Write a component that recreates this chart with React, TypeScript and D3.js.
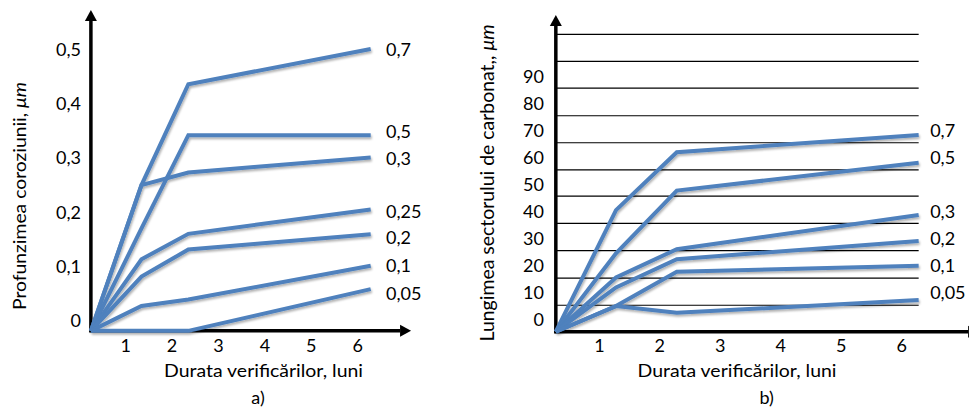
import React from 'react';
import * as d3 from 'd3';

// ---------- shared ----------
const monthTicks = [1, 2, 3, 4, 5, 6];
const xTitle = 'Durata verificărilor, luni';

// ---------- panel a ----------
const seriesA = ['0,7', '0,5', '0,3', '0,25', '0,2', '0,1', '0,05'];
const monthsA = [0.25, 1.34, 2.35, 6.28];
const valuesA = [
  [-0.02, 0.249, 0.435, 0.5],
  [-0.02, 0.169, 0.341, 0.341],
  [-0.02, 0.249, 0.272, 0.3],
  [-0.02, 0.112, 0.159, 0.204],
  [-0.02, 0.08, 0.13, 0.158],
  [-0.02, 0.026, 0.038, 0.1],
  [-0.02, -0.02, -0.02, 0.057],
];
const labelYA = [0.5, 0.349, 0.299, 0.201, 0.153, 0.101, 0.05];
const yTicksA = [0, 0.1, 0.2, 0.3, 0.4, 0.5];
const yTickLabelsA = ['0', '0,1', '0,2', '0,3', '0,4', '0,5'];

// ---------- panel b ----------
const seriesB = ['0,7', '0,5', '0,3', '0,2', '0,1', '0,05'];
const monthsB = [0.28, 1.275, 2.28, 6.28];
const valuesB = [
  [-4.6, 40.4, 61.8, 68.2],
  [-4.6, 24.4, 47.6, 57.9],
  [-4.6, 15.5, 25.9, 38.6],
  [-4.6, 11.8, 22.2, 29.0],
  [-4.6, 4.9, 17.6, 19.8],
  [-4.6, 4.9, 2.4, 7.1],
];
const labelYB = [70, 60, 40, 30, 20, 10];
const yTicksB = [0, 10, 20, 30, 40, 50, 60, 70, 80, 90];
const gridB = [5.2, 15.2, 25.4, 35.5, 45.6, 55.3, 65.3, 75.3, 85.5, 95.4, 105.4];

const BLUE = '#4F81BD';
const FONT = 'Lato, "Open Sans", sans-serif';

type PanelProps = {
  id: string;
  x: d3.ScaleLinear<number, number>;
  y: d3.ScaleLinear<number, number>;
  months: number[];
  values: number[][];
  names: string[];
  labelY: number[];
  labelX: number;
  yTicks: number[];
  yTickLabels: string[];
  yLabelX: number;
  origin: [number, number];
  xTip: number;
  yTip: number;
  grid?: number[];
  gridEnd?: number;
  yTitle: string;
  yTitlePos: [number, number];
  yTitleLen: number;
  yTitleSize: number;
  xTitlePos: [number, number];
  caption: string;
  captionPos: [number, number];
};

function Panel(p: PanelProps) {
  const ox = p.x(p.origin[0]);
  const oy = p.y(p.origin[1]);
  const xt = p.x(p.xTip);
  const yt = p.y(p.yTip);
  const ah = 11;
  const aw = 6;
  const line = d3
    .line<[number, number]>()
    .x((d) => p.x(d[0]))
    .y((d) => p.y(d[1]));
  return (
    <g>
      {p.grid &&
        p.grid.map((g, i) => (
          <line
            key={'g' + i}
            x1={ox}
            x2={p.x(p.gridEnd as number)}
            y1={p.y(g)}
            y2={p.y(g)}
            stroke="#000"
            strokeWidth={1.2}
          />
        ))}
      {/* axes */}
      <line x1={ox} x2={ox} y1={oy + 1.5} y2={yt + ah} stroke="#000" strokeWidth={3.5} />
      <polygon points={`${ox},${yt} ${ox - aw},${yt + ah} ${ox + aw},${yt + ah}`} fill="#000" />
      <line x1={ox - 1.5} x2={xt - ah} y1={oy} y2={oy} stroke="#000" strokeWidth={3.5} />
      <polygon points={`${xt},${oy} ${xt - ah},${oy - aw} ${xt - ah},${oy + aw}`} fill="#000" />
      {/* series */}
      <g filter={`url(#shadow-${p.id})`}>
        {p.values.map((vals, i) => (
          <path
            key={'s' + i}
            d={line(vals.map((v, j) => [p.months[j], v]) as [number, number][]) || ''}
            fill="none"
            stroke={BLUE}
            strokeWidth={4}
            strokeLinejoin="miter"
          />
        ))}
      </g>
      {/* series labels */}
      {p.names.map((n, i) => (
        <text key={'l' + i} x={p.x(p.labelX)} y={p.y(p.labelY[i])} dominantBaseline="central" fontSize={18}>
          {n}
        </text>
      ))}
      {/* y ticks */}
      {p.yTicks.map((t, i) => (
        <text key={'y' + i} x={p.yLabelX} y={p.y(t)} textAnchor="end" dominantBaseline="central" fontSize={18}>
          {p.yTickLabels[i]}
        </text>
      ))}
      {/* x ticks */}
      {monthTicks.map((m) => (
        <text key={'x' + m} x={p.x(m)} y={345} textAnchor="middle" dominantBaseline="central" fontSize={18}>
          {m}
        </text>
      ))}
      <text
        x={p.xTitlePos[0]}
        y={p.xTitlePos[1]}
        textAnchor="middle"
        dominantBaseline="central"
        fontSize={17.5}
        textLength={199}
        lengthAdjust="spacingAndGlyphs"
      >
        {xTitle}
      </text>
      <text
        transform={`translate(${p.yTitlePos[0]},${p.yTitlePos[1]}) rotate(-90)`}
        textAnchor="middle"
        dominantBaseline="central"
        fontSize={p.yTitleSize}
        textLength={p.yTitleLen}
        lengthAdjust="spacingAndGlyphs"
      >
        {p.yTitle}
        <tspan fontStyle="italic">μm</tspan>
      </text>
      <text x={p.captionPos[0]} y={p.captionPos[1]} textAnchor="middle" dominantBaseline="central" fontSize={18}>
        {p.caption}
      </text>
    </g>
  );
}

export default function App() {
  const xA = d3.scaleLinear().domain([0, 7]).range([79.3, 404.1]);
  const yA = d3.scaleLinear().domain([0, 0.5]).range([320, 49]);
  const xB = d3.scaleLinear().domain([0, 7]).range([538.9, 962.2]);
  const yB = d3.scaleLinear().domain([0, 90]).range([319.3, 76]);
  return (
    <svg
      width={969}
      height={407}
      style={{ position: 'absolute', left: 0, top: 0, background: '#fff' }}
      fontFamily={FONT}
    >
      <defs>
        {['a', 'b'].map((id) => (
          <filter key={id} id={`shadow-${id}`} x="-10%" y="-10%" width="120%" height="130%">
            <feDropShadow dx={1} dy={2} stdDeviation={1.3} floodColor="#000" floodOpacity={0.3} />
          </filter>
        ))}
      </defs>
      <rect width={969} height={407} fill="#fff" />
      <Panel
        id="a"
        x={xA}
        y={yA}
        months={monthsA}
        values={valuesA}
        names={seriesA}
        labelY={labelYA}
        labelX={6.61}
        yTicks={yTicksA}
        yTickLabels={yTickLabelsA}
        yLabelX={81}
        origin={[0.25, -0.02]}
        xTip={7.15}
        yTip={0.572}
        yTitle="Profunzimea coroziunii, "
        yTitlePos={[19, 196]}
        yTitleLen={228}
        yTitleSize={17.5}
        xTitlePos={[263.5, 370]}
        caption="a)"
        captionPos={[258, 397]}
      />
      <Panel
        id="b"
        x={xB}
        y={yB}
        months={monthsB}
        values={valuesB}
        names={seriesB}
        labelY={labelYB}
        labelX={6.47}
        yTicks={yTicksB}
        yTickLabels={yTicksB.map(String)}
        yLabelX={544}
        origin={[0.28, -4.6]}
        xTip={7.28}
        yTip={112.6}
        grid={gridB}
        gridEnd={6.28}
        yTitle="Lungimea sectorului de carbonat,, "
        yTitlePos={[487, 183]}
        yTitleLen={317}
        yTitleSize={18.5}
        xTitlePos={[737, 370]}
        caption="b)"
        captionPos={[766.7, 397]}
      />
    </svg>
  );
}
